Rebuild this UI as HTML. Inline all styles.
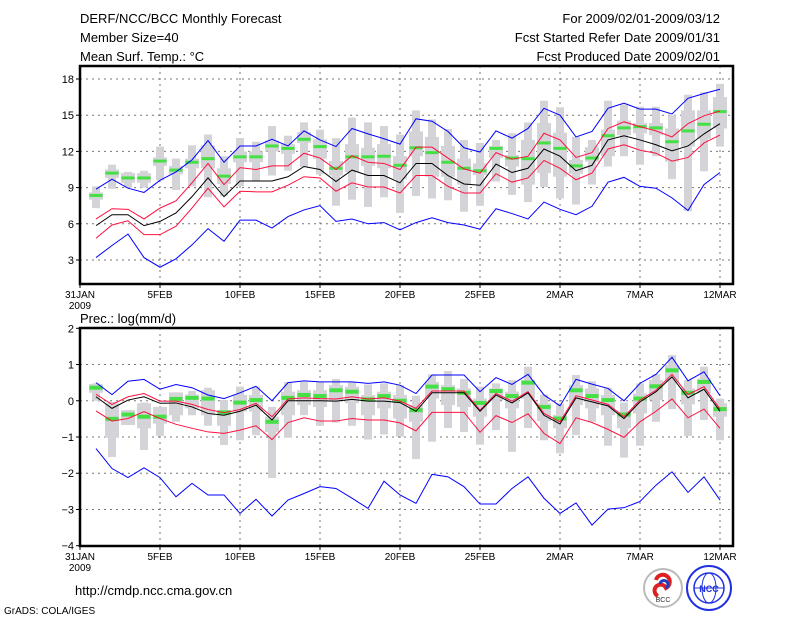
<!DOCTYPE html>
<html><head><meta charset="utf-8"><style>
body{margin:0;background:#fff;width:800px;height:618px;overflow:hidden}
svg{display:block;font-family:"Liberation Sans",sans-serif}
</style></head><body>
<svg id="chart" width="800" height="618" viewBox="0 0 800 618">
<g font-size="13" fill="#000">
<text x="80" y="23">DERF/NCC/BCC Monthly Forecast</text>
<text x="80" y="42">Member Size=40</text>
<text x="80" y="61">Mean Surf. Temp.: °C</text>
<text x="720" y="23" text-anchor="end">For 2009/02/01-2009/03/12</text>
<text x="720" y="42" text-anchor="end">Fcst Started Refer Date 2009/01/31</text>
<text x="720" y="61" text-anchor="end">Fcst Produced Date 2009/02/01</text>
</g>
<text x="80" y="323" font-size="13">Prec.: log(mm/d)</text>
<text x="75" y="595" font-size="13">http://cmdp.ncc.cma.gov.cn</text>
<text x="4" y="614" font-size="10">GrADS: COLA/IGES</text>
<g>
<circle cx="663" cy="588" r="19" fill="#fff" stroke="#bbb" stroke-width="2"/>
<path d="M656 580 a7 7 0 1 1 10 8 a6 6 0 1 0 -8 8" fill="none" stroke="#e02020" stroke-width="4"/>
<path d="M660 584 a4 4 0 1 1 6 4" fill="none" stroke="#2040c0" stroke-width="3"/>
<text x="663" y="602" font-size="7" text-anchor="middle" fill="#333">BCC</text>
</g>
<g>
<circle cx="709" cy="588" r="22" fill="#fff" stroke="#2030e0" stroke-width="2"/>
<ellipse cx="709" cy="588" rx="15" ry="15" fill="none" stroke="#2030e0" stroke-width="1.5"/>
<ellipse cx="709" cy="588" rx="7" ry="15" fill="none" stroke="#2030e0" stroke-width="1"/>
<line x1="694" y1="588" x2="724" y2="588" stroke="#2030e0"/>
<text x="709" y="592" font-size="9" font-weight="bold" text-anchor="middle" fill="#2030e0">NCC</text>
</g>
<g id="panels"></g>
</svg>
<script>
const days=[1,2,3,4,5,6,7,8,9,10,11,12,13,14,15,16,17,18,19,20,21,22,23,24,25,26,27,28,29,30,31,32,33,34,35,36,37,38,39,40];
const xTickDays=[0,5,10,15,20,25,30,35,40];
const xTickLabels=["31JAN","5FEB","10FEB","15FEB","20FEB","25FEB","2MAR","7MAR","12MAR"];
// Temperature panel
const tTicks=[3,6,9,12,15,18];
const tBlueHi=[8.87,9.7,8.95,8.6,9.6,10.3,11.3,12.9,11.1,12.45,12.45,13.0,12.45,13.7,12.95,12.4,13.9,13.45,13.05,12.6,14.7,14.5,13.65,12.3,11.95,13.7,13.1,13.9,15.57,15.0,13.2,13.65,15.57,16.0,15.5,15.5,15.1,16.4,16.8,17.15];
const tRedHi=[6.4,7.25,7.2,6.4,7.3,7.9,9.4,11.0,9.25,10.65,10.5,10.8,10.8,11.85,11.45,10.5,11.65,11.1,11.0,10.5,12.35,12.35,11.45,10.55,10.2,11.9,11.35,11.6,13.5,12.95,11.5,11.9,13.9,14.45,14.05,13.7,13.2,14.3,14.95,15.35];
const tMean=[5.85,6.75,6.75,5.85,6.2,6.9,8.25,9.8,8.25,9.55,9.55,9.55,9.9,10.75,10.5,9.5,10.45,10.0,10.0,9.4,11.0,11.0,10.0,9.3,9.2,10.95,10.25,10.6,12.2,11.6,10.4,10.85,12.95,13.3,12.95,12.55,12.05,12.45,13.45,14.3];
const tRedLo=[4.8,5.9,6.25,5.1,5.1,5.8,7.3,8.95,7.4,8.7,8.65,8.65,9.2,9.9,9.8,8.7,9.4,9.05,9.05,8.55,10.0,10.0,9.1,8.55,8.55,10.15,9.45,9.8,11.25,10.6,9.65,10.2,12.2,12.55,12.1,11.85,11.2,11.5,12.7,13.35];
const tBlueLo=[3.2,4.2,5.15,3.2,2.4,3.1,4.25,5.6,4.55,6.3,6.3,5.65,6.6,7.15,7.5,6.2,6.4,6.0,6.1,5.5,6.1,6.5,6.1,5.9,5.55,7.25,6.85,6.4,7.8,7.2,6.75,7.45,9.45,9.85,9.1,8.95,8.15,7.1,9.25,10.25];
const tObs=[8.35,10.2,9.8,9.8,11.2,10.45,11.1,11.4,9.95,11.55,11.55,12.45,12.25,13.0,12.4,10.6,11.55,11.55,11.6,10.85,12.3,11.9,11.1,10.6,10.4,12.25,11.45,11.4,12.7,12.25,10.8,11.45,13.3,13.95,14.05,13.95,12.8,13.7,14.25,15.3];
const tBoxHi=[8.6,10.5,10.2,10.2,11.5,10.8,11.4,12.5,10.6,12.0,12.0,12.9,12.6,13.6,13.0,11.2,12.6,12.3,12.6,11.6,13.65,13.2,12.45,11.4,11.0,12.45,11.7,12.95,14.35,13.55,11.3,12.35,13.8,14.55,14.35,14.35,13.9,15.4,15.4,16.5];
const tBoxLo=[8.0,9.8,9.4,9.4,10.8,10.1,10.6,10.6,9.3,11.1,11.1,12.0,11.8,12.7,11.4,10.0,10.3,10.8,10.6,9.7,11.6,9.9,9.9,9.25,10.05,11.45,10.75,9.25,10.2,9.9,10.15,11.15,11.6,13.35,13.5,13.35,11.15,12.4,13.05,13.9];
const tBarHi=[9.1,10.9,10.3,10.4,12.4,11.4,12.5,13.4,11.6,13.1,12.8,14.1,13.3,14.4,13.8,13.1,14.8,14.4,14.1,13.4,15.4,14.65,13.85,12.95,12.7,12.95,13.5,14.4,16.2,15.65,13.2,12.95,16.2,15.9,15.7,15.7,15.0,16.7,16.9,17.6];
const tBarLo=[7.3,8.9,9.0,9.0,9.6,8.8,9.1,8.2,8.3,9.1,9.5,10.0,10.4,10.7,10.1,7.5,8.0,7.4,8.2,6.9,8.3,8.1,7.95,7.0,7.5,9.5,8.4,7.8,9.05,8.1,7.6,9.25,10.75,11.6,10.9,11.6,9.7,7.05,10.35,12.4];
// Precipitation panel
const pTicks=[-4,-3,-2,-1,0,1,2];
const pBlueHi=[0.5,0.17,0.54,0.59,0.32,0.45,0.36,0.16,0.06,0.22,0.4,0,0.5,0.55,0.52,0.52,0.52,0.48,0.52,0.43,0.2,0.71,0.71,0.71,0.25,0.64,0.45,0.73,0.16,-0.14,0.59,0.46,0.34,0,0.48,0.73,1.2,0.55,0.8,0.14];
const pRedHi=[0.18,-0.1,0.11,0.2,-0.01,-0.01,-0.1,-0.24,-0.33,-0.24,-0.07,-0.44,0.05,0.08,0.06,0.05,0.11,0.05,0.08,-0.01,-0.21,0.27,0.27,0.27,-0.26,0.2,-0.01,0.25,-0.35,-0.58,0.14,0.02,-0.1,-0.44,0.02,0.29,0.73,0.17,0.39,-0.23];
const pMean=[0.11,-0.21,0.02,0.11,-0.07,-0.06,-0.17,-0.35,-0.4,-0.29,-0.12,-0.53,0,0,0,-0.01,0.04,-0.01,-0.01,-0.05,-0.29,0.22,0.22,0.22,-0.29,0.16,-0.06,0.22,-0.4,-0.64,0.08,-0.03,-0.14,-0.49,-0.03,0.25,0.66,0.08,0.32,-0.29];
const pRedLo=[-0.28,-0.56,-0.49,-0.3,-0.49,-0.65,-0.76,-0.86,-0.9,-0.81,-0.69,-1.07,-0.6,-0.47,-0.56,-0.56,-0.49,-0.53,-0.53,-0.61,-0.83,-0.32,-0.32,-0.32,-0.87,-0.41,-0.6,-0.36,-0.9,-1.18,-0.47,-0.6,-0.79,-1.01,-0.58,-0.29,0.05,-0.47,-0.23,-0.76];
const pBlueLo=[-1.32,-1.87,-2.12,-1.85,-2.12,-2.65,-2.28,-2.6,-2.6,-3.11,-2.72,-3.18,-2.74,-2.56,-2.37,-2.42,-2.69,-2.97,-2.22,-2.6,-2.83,-2.03,-2.1,-2.37,-2.85,-2.85,-2.42,-2.1,-2.69,-3.11,-2.82,-3.43,-2.99,-2.95,-2.78,-2.33,-1.96,-2.53,-2.1,-2.74];
const pObs=[0.36,-0.5,-0.38,-0.44,-0.44,0.05,0.08,0.06,-0.32,-0.05,0.02,-0.58,0.08,0.16,0.13,0.29,0.25,0.04,0.13,0,-0.26,0.39,0.32,0.22,-0.06,0.27,0.13,0.5,-0.17,-0.49,0.29,0.13,0.02,-0.38,0.06,0.4,0.84,0.22,0.52,-0.23];
const pBoxHi=[0.46,-0.07,-0.26,-0.07,-0.17,0.23,0.17,0.29,-0.26,0.16,0.16,-0.44,0.25,0.29,0.29,0.43,0.39,0.16,0.25,0.16,-0.12,0.52,0.43,0.34,0.06,0.34,0.25,0.57,-0.07,-0.39,0.43,0.34,0.16,-0.3,0.2,0.57,0.98,0.34,0.61,-0.07];
const pBoxLo=[0.22,-1.02,-0.67,-0.76,-0.63,-0.4,-0.21,-0.4,-0.69,-0.3,-0.3,-0.86,-0.4,-0.12,-0.17,-0.03,-0.07,-0.4,-0.21,-0.49,-0.58,0.06,-0.12,-0.17,-0.44,0.02,-0.21,0.06,-0.56,-0.76,-0.12,-0.21,-0.4,-0.76,-0.35,0.02,0.52,-0.1,0.2,-0.44];
const pBarHi=[0.48,-0.03,-0.26,-0.05,-0.17,0.23,0.27,0.36,0.02,0.39,0.39,-0.17,0.52,0.52,0.52,0.6,0.52,0.45,0.48,0.43,0.14,0.73,0.82,0.6,0.39,0.48,0.57,0.94,0.17,-0.07,0.71,0.54,0.36,-0.05,0.48,0.73,1.26,0.57,0.94,0.06];
const pBarLo=[0,-1.55,-0.67,-1.36,-0.97,-0.58,-0.4,-0.69,-1.22,-1.09,-0.95,-2.13,-1.02,-0.4,-0.69,-0.6,-0.69,-1.07,-0.93,-0.99,-1.61,-1.13,-0.75,-0.86,-1.21,-0.81,-1.41,-0.75,-1.09,-1.45,-0.95,-0.58,-1.24,-1.57,-1.24,-0.58,-0.23,-0.97,-0.53,-1.09];

const NS='http://www.w3.org/2000/svg';
const root=document.getElementById('panels');
function mk(tag,attrs,parent){const e=document.createElementNS(NS,tag);for(const k in attrs)e.setAttribute(k,attrs[k]);parent.appendChild(e);return e;}
const X0=80,DX=16;
function xs(d){return X0+d*DX;}

function panel(cfg){
  const g=mk('g',{},root);
  
  
  const ys=v=>cfg.yPix0+(v-cfg.v0)*(cfg.yPix1-cfg.yPix0)/(cfg.v1-cfg.v0);
  cfg.ticks.forEach(t=>{
    const y=ys(t);
    if(y>cfg.top+2&&y<cfg.bot-2){const l=mk('line',{x1:80,x2:733,y1:y,y2:y,stroke:'#777','stroke-dasharray':'2,4','stroke-width':1},g);
      }
    mk('line',{x1:76,x2:80,y1:y,y2:y,stroke:'#000'},g);
    const lb=mk('text',{x:74,y:y+4,'text-anchor':'end','font-size':11},g);
    
    
    lb.textContent=String(t).replace('-','\u2212');
  });
  xTickDays.forEach((d,i)=>{
    const x=xs(d);
    if(d>0){const l=mk('line',{x1:x,x2:x,y1:cfg.top,y2:cfg.bot,stroke:'#777','stroke-dasharray':'2,4'},g);
      }
    mk('line',{x1:x,x2:x,y1:cfg.bot,y2:cfg.bot+4,stroke:'#000'},g);
    const lb=mk('text',{x:x,y:cfg.bot+14,'text-anchor':'middle','font-size':10},g);
    
    
    lb.textContent=xTickLabels[i];
  });
  const yr=mk('text',{x:80,y:cfg.bot+25,'text-anchor':'middle','font-size':10},g);
  
  
  yr.textContent='2009';
  days.forEach((d,i)=>{
    const x=xs(d);
    const b=mk('rect',{x:x-4,width:8,y:ys(cfg.barHi[i]),height:ys(cfg.barLo[i])-ys(cfg.barHi[i]),fill:'#d3d3d8'},g);
    
    
    const bx=mk('rect',{x:x-7,width:14,y:ys(cfg.boxHi[i]),height:ys(cfg.boxLo[i])-ys(cfg.boxHi[i]),fill:'#d3d3d8'},g);
    
    
  });
  days.forEach((d,i)=>{
    const x=xs(d);
    const o=mk('rect',{x:x-6.5,width:13,y:ys(cfg.obs[i])-cfg.gh/2,height:cfg.gh,fill:'#44e044'},g);
    
    
  });
  const series=[[cfg.blueLo,'#0000ff','min-line'],[cfg.blueHi,'#0000ff','max-line'],[cfg.redLo,'#ff1040','lower-line'],[cfg.redHi,'#ff1040','upper-line'],[cfg.mean,'#000','mean-line']];
  series.forEach(s=>{
    const p=mk('polyline',{points:days.map((d,i)=>xs(d)+','+ys(s[0][i])).join(' '),fill:'none',stroke:s[1],'stroke-width':1},g);
    
    
  });
  const fr=mk('rect',{x:80,y:cfg.top,width:653,height:cfg.bot-cfg.top,fill:'none',stroke:'#000','stroke-width':2.5},g);
  
  
}
panel({name:'temperature-panel',top:66,bot:284,v0:3,v1:18,yPix0:260,yPix1:79,ticks:tTicks,gh:3,
  blueHi:tBlueHi,redHi:tRedHi,mean:tMean,redLo:tRedLo,blueLo:tBlueLo,obs:tObs,boxHi:tBoxHi,boxLo:tBoxLo,barHi:tBarHi,barLo:tBarLo});
panel({name:'precipitation-panel',top:328,bot:546,v0:-4,v1:2,yPix0:545.7,yPix1:328.3,ticks:pTicks,gh:4,
  blueHi:pBlueHi,redHi:pRedHi,mean:pMean,redLo:pRedLo,blueLo:pBlueLo,obs:pObs,boxHi:pBoxHi,boxLo:pBoxLo,barHi:pBarHi,barLo:pBarLo});
</script>
</body></html>
